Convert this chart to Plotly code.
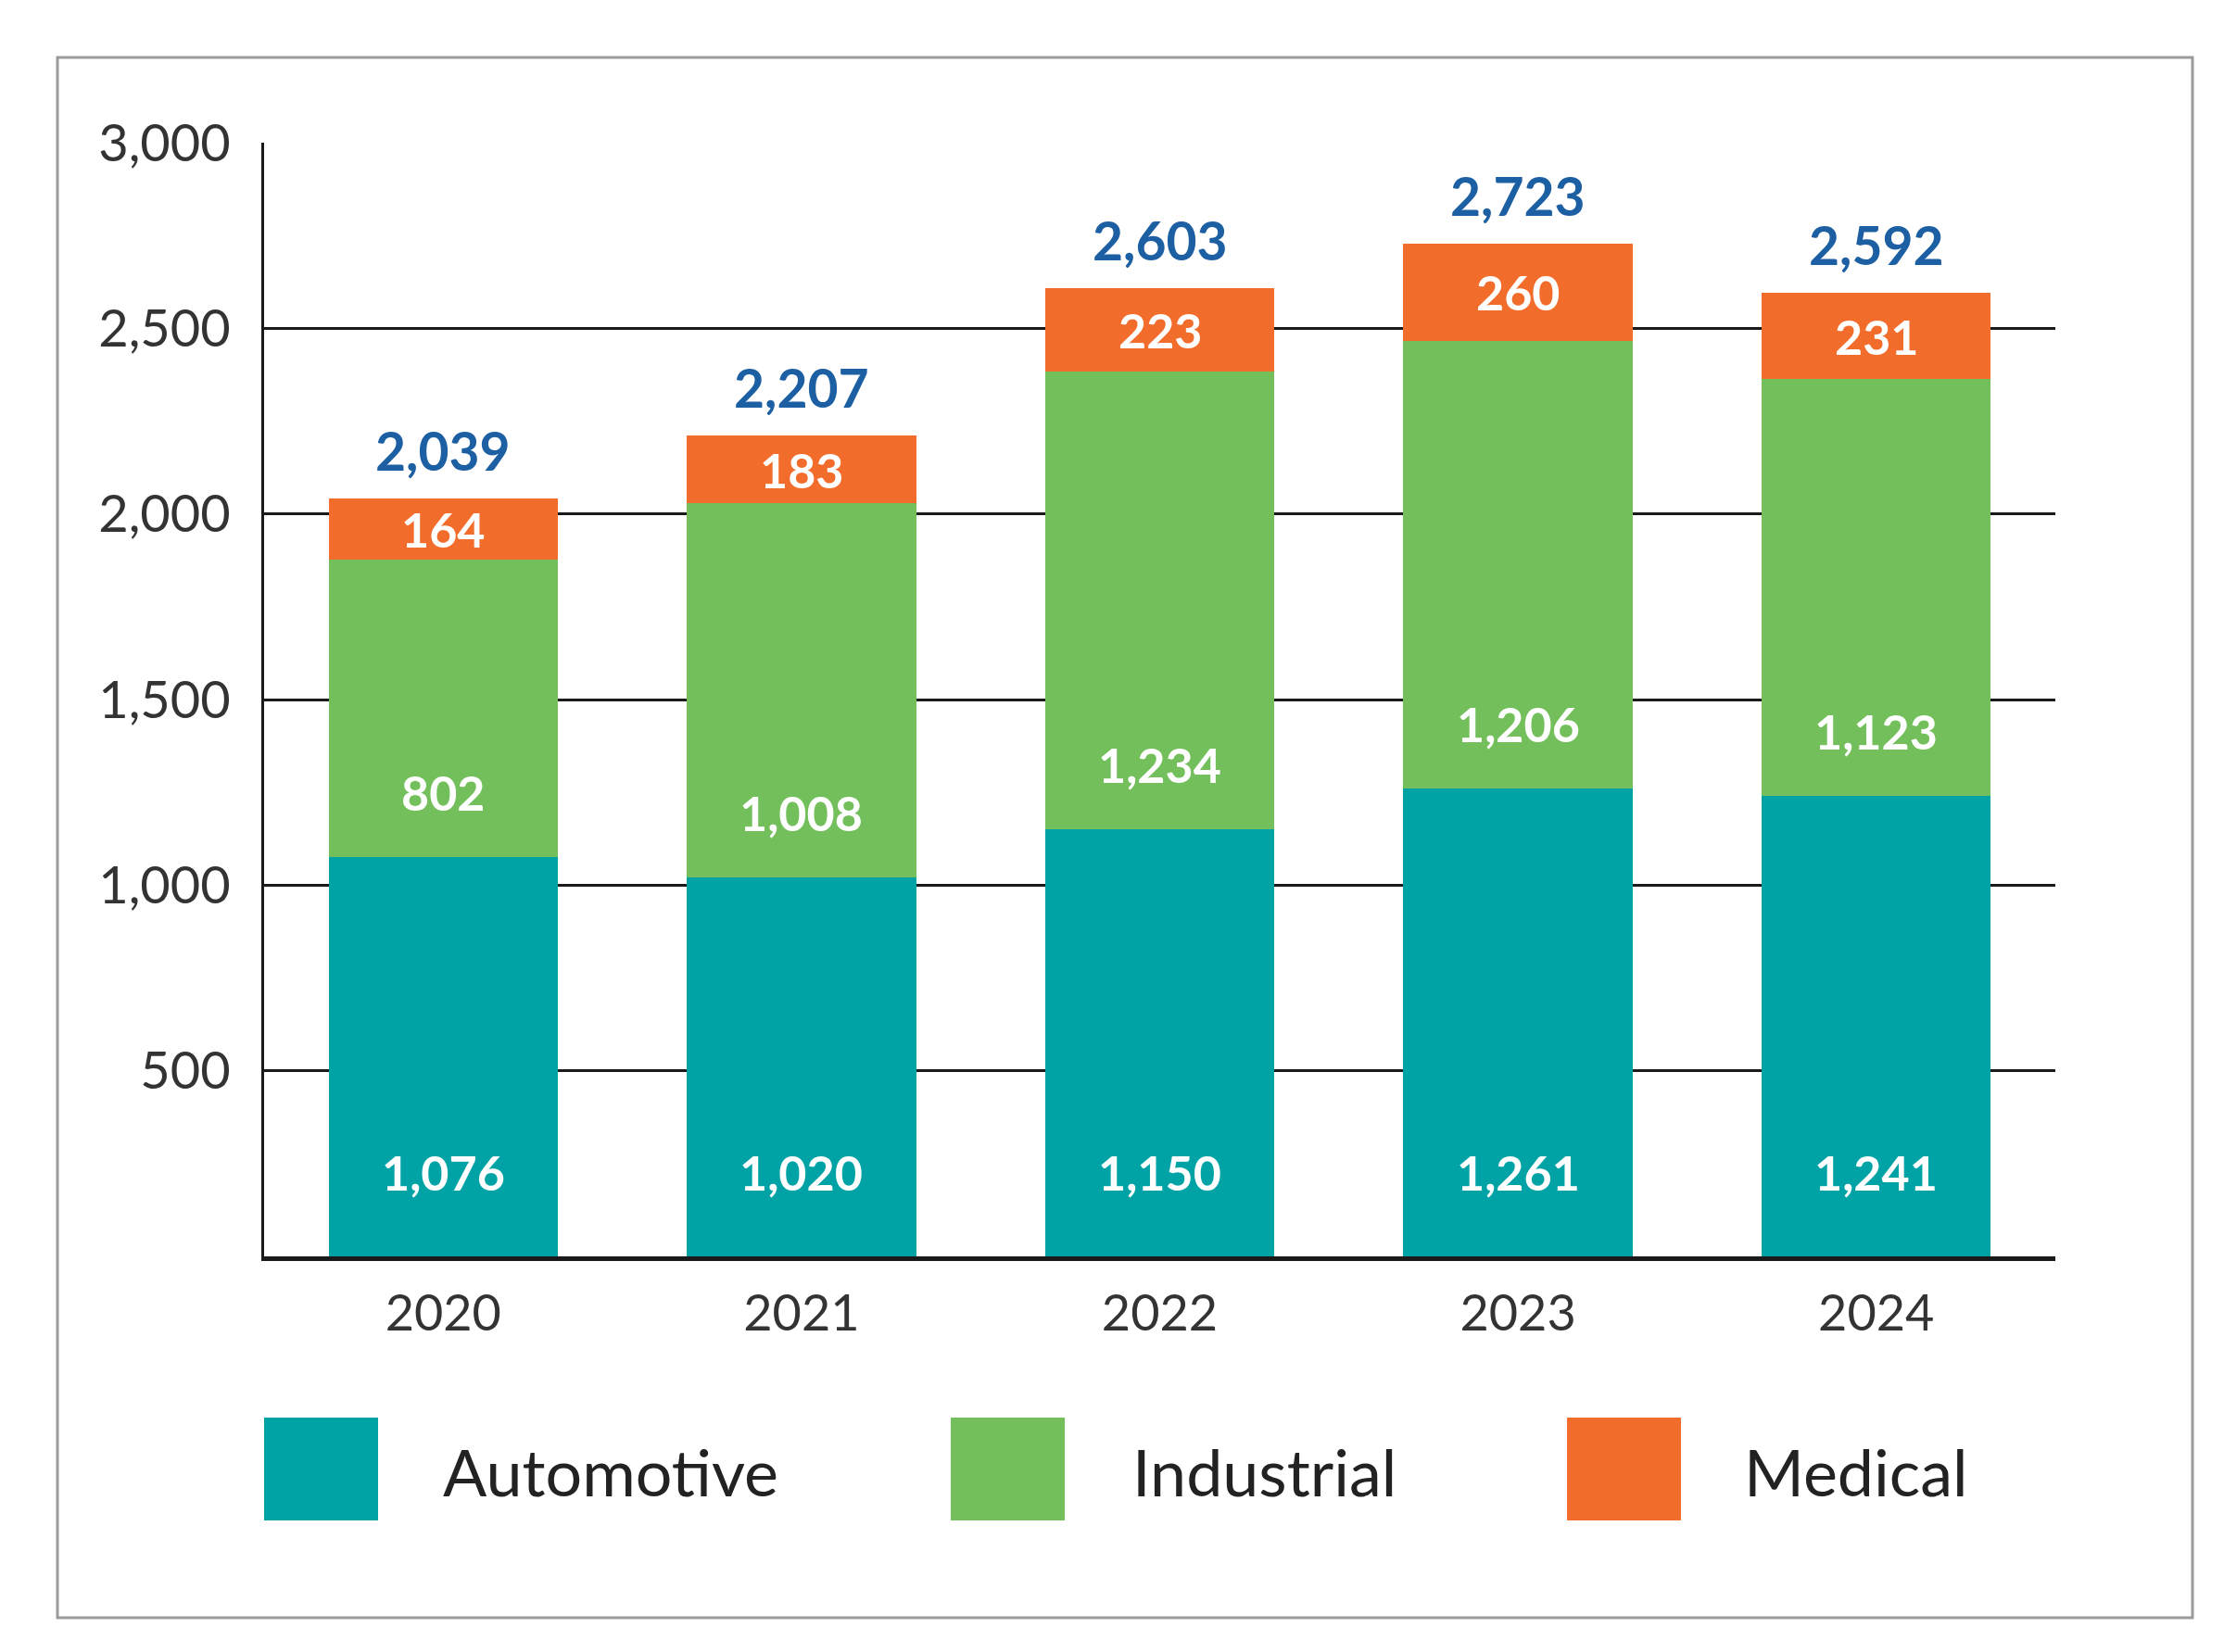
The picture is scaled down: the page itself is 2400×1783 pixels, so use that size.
import plotly.graph_objects as go

years = ["2020", "2021", "2022", "2023", "2024"]
automotive = [1076, 1020, 1150, 1261, 1241]
industrial = [802, 1008, 1234, 1206, 1123]
medical = [164, 183, 223, 260, 231]
totals = [2039, 2207, 2603, 2723, 2592]
series_names = ["Automotive", "Industrial", "Medical"]
y_ticks = [500, 1000, 1500, 2000, 2500, 3000]

colors = {"Automotive": "#00A3A5", "Industrial": "#73BF5B", "Medical": "#F26D2B"}
total_color = "#1D5FA3"
FONT = "Lato"

xpos = list(range(len(years)))

fig = go.Figure()
for name, vals in zip(series_names, [automotive, industrial, medical]):
    fig.add_trace(go.Bar(x=xpos, y=vals, name=name, marker_color=colors[name],
                         marker_line_width=0, showlegend=False))

ann = []
lab_font = dict(family=FONT, size=52, color="#FFFFFF", weight=700)
for i in xpos:
    a, ind, m = automotive[i], industrial[i], medical[i]
    ann.append(dict(x=i, y=226, text=f"{a:,}", showarrow=False, font=lab_font,
                    xref="x", yref="y", yanchor="middle"))
    ann.append(dict(x=i, y=a + 175, text=f"{ind:,}", showarrow=False, font=lab_font,
                    xref="x", yref="y", yanchor="middle"))
    ann.append(dict(x=i, y=a + ind + m / 2, text=f"{m:,}", showarrow=False, font=lab_font,
                    xref="x", yref="y", yanchor="middle"))
    ann.append(dict(x=i, y=a + ind + m, text=f"{totals[i]:,}", showarrow=False,
                    font=dict(family=FONT, size=57, color=total_color, weight=700),
                    xref="x", yref="y", yanchor="middle", yshift=52))

# custom legend (paper coordinates)
W, H = 2400, 1783
L, R, T, B = 277, 190, 146, 435
pw, ph = W - L - R, H - T - B

def px(x):
    return (x - L) / pw

def py(y):
    return (H - B - y) / ph

shapes = []
legend_items = [("Automotive", 277, 468), ("Industrial", 1018, 1212), ("Medical", 1683, 1872)]
for name, sx, tx in legend_items:
    shapes.append(dict(type="rect", xref="paper", yref="paper",
                       x0=px(sx), x1=px(sx + 123), y0=py(1633), y1=py(1522),
                       fillcolor=colors[name], line_width=0))
    ann.append(dict(x=px(tx), y=py(1580), xref="paper", yref="paper", text=name,
                    showarrow=False, xanchor="left", yanchor="middle",
                    font=dict(family=FONT, size=70, color="#222222")))

# outer frame
shapes.append(dict(type="rect", xref="paper", yref="paper",
                   x0=px(54), x1=px(2358), y0=py(1738), y1=py(54),
                   line=dict(color="#9A9A9A", width=3), fillcolor="rgba(0,0,0,0)", layer="below"))

fig.update_layout(
    barmode="stack",
    bargap=0.36,
    width=W, height=H,
    margin=dict(l=L, r=R, t=T, b=B),
    paper_bgcolor="white",
    plot_bgcolor="white",
    annotations=ann,
    shapes=shapes,
    font=dict(family=FONT, color="#333333"),
)
fig.update_xaxes(
    type="linear", range=[-0.5, len(years) - 0.5],
    tickvals=xpos, ticktext=years,
    showline=True, linecolor="#1A1A1A", linewidth=5,
    showgrid=False, zeroline=False, ticks="", ticklabelstandoff=10,
    tickfont=dict(family=FONT, size=54, color="#333333"),
)
fig.update_yaxes(
    range=[0, 3000], tickvals=y_ticks, tickformat=",",
    showgrid=True, gridcolor="#1A1A1A", gridwidth=3,
    showline=True, linecolor="#1A1A1A", linewidth=3,
    zeroline=False, ticks="", ticklabelstandoff=22,
    tickfont=dict(family=FONT, size=56, color="#333333"),
)

fig.write_html("out.html")
